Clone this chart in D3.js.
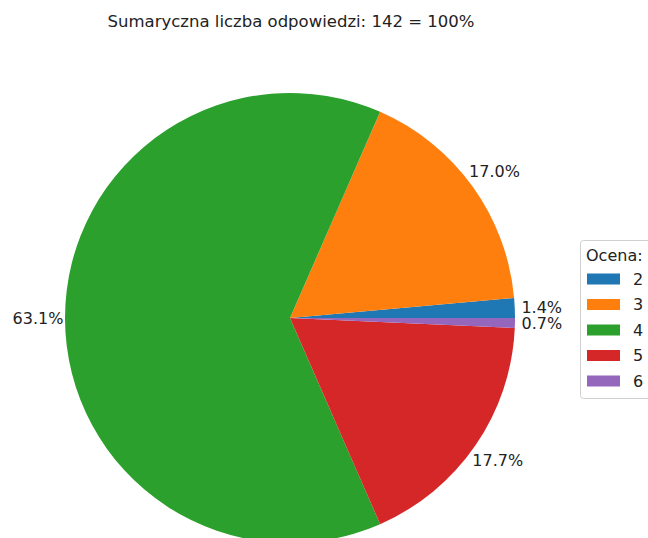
<!DOCTYPE html>
<meta charset="utf-8">
<head>
  <title>Ocena - pie</title>
</head>
<style>
  body { margin: 0; background: #fff; font-family: "DejaVu Sans", sans-serif; }
  svg { display: block; }
</style>
<body>
<script src="https://cdn.jsdelivr.net/npm/d3@7"></script>
<script>
// data
var grades = ["2", "3", "4", "5", "6"];
var counts = [2, 24, 89, 25, 1];
var colors = ["#1f77b4", "#ff7f0e", "#2ca02c", "#d62728", "#9467bd"];
var titleText = "Sumaryczna liczba odpowiedzi: 142 = 100%";
var legendTitle = "Ocena:";

var width = 648, height = 538;
var cx = 290, cy = 318, r = 225;

var svg = d3.select("body").append("svg")
    .attr("width", width)
    .attr("height", height);

// title
svg.append("text")
    .attr("x", 291)
    .attr("y", 27)
    .attr("text-anchor", "middle")
    .style("font-size", "16.5px")
    .style("fill", "#222")
    .text(titleText);

var total = d3.sum(counts);

// matplotlib style: start at 3 o'clock, counterclockwise
var pie = d3.pie()
    .sort(null)
    .startAngle(Math.PI / 2)
    .endAngle(Math.PI / 2 - 2 * Math.PI);

var arcs = pie(counts);
var arc = d3.arc().innerRadius(0).outerRadius(r);

var g = svg.append("g")
    .attr("transform", "translate(" + cx + "," + cy + ")");

g.selectAll("path")
    .data(arcs)
    .enter()
    .append("path")
    .attr("d", arc)
    .attr("fill", function(d, i) { return colors[i]; });

// percentage labels outside the pie
var labelArc = d3.arc().innerRadius(r * 1.12).outerRadius(r * 1.12);
g.selectAll(".pct")
    .data(arcs)
    .enter()
    .append("text")
    .attr("class", "pct")
    .attr("transform", function(d) { return "translate(" + labelArc.centroid(d) + ")"; })
    .attr("text-anchor", "middle")
    .attr("dy", "0.36em")
    .style("font-size", "16px")
    .style("fill", "#222")
    .text(function(d) { return (d.value / total * 100).toFixed(1) + "%"; });

// legend
var legend = svg.append("g").attr("transform", "translate(580,240)");

legend.append("rect")
    .attr("x", 0.5)
    .attr("y", 0.5)
    .attr("width", 90)
    .attr("height", 158)
    .attr("rx", 3)
    .attr("fill", "#fff")
    .attr("stroke", "#d0d0d0");

legend.append("text")
    .attr("x", 6)
    .attr("y", 21)
    .style("font-size", "16px")
    .style("fill", "#222")
    .text(legendTitle);

var legendY = d3.scalePoint()
    .domain(grades)
    .range([39, 141]);

var items = legend.selectAll(".item")
    .data(grades)
    .enter()
    .append("g")
    .attr("class", "item")
    .attr("transform", function(d) { return "translate(0," + legendY(d) + ")"; });

items.append("rect")
    .attr("x", 7)
    .attr("y", -5.5)
    .attr("width", 33)
    .attr("height", 11)
    .attr("fill", function(d, i) { return colors[i]; });

items.append("text")
    .attr("x", 53)
    .attr("dy", "0.36em")
    .style("font-size", "16px")
    .style("fill", "#222")
    .text(function(d) { return d; });
</script>
</body>
